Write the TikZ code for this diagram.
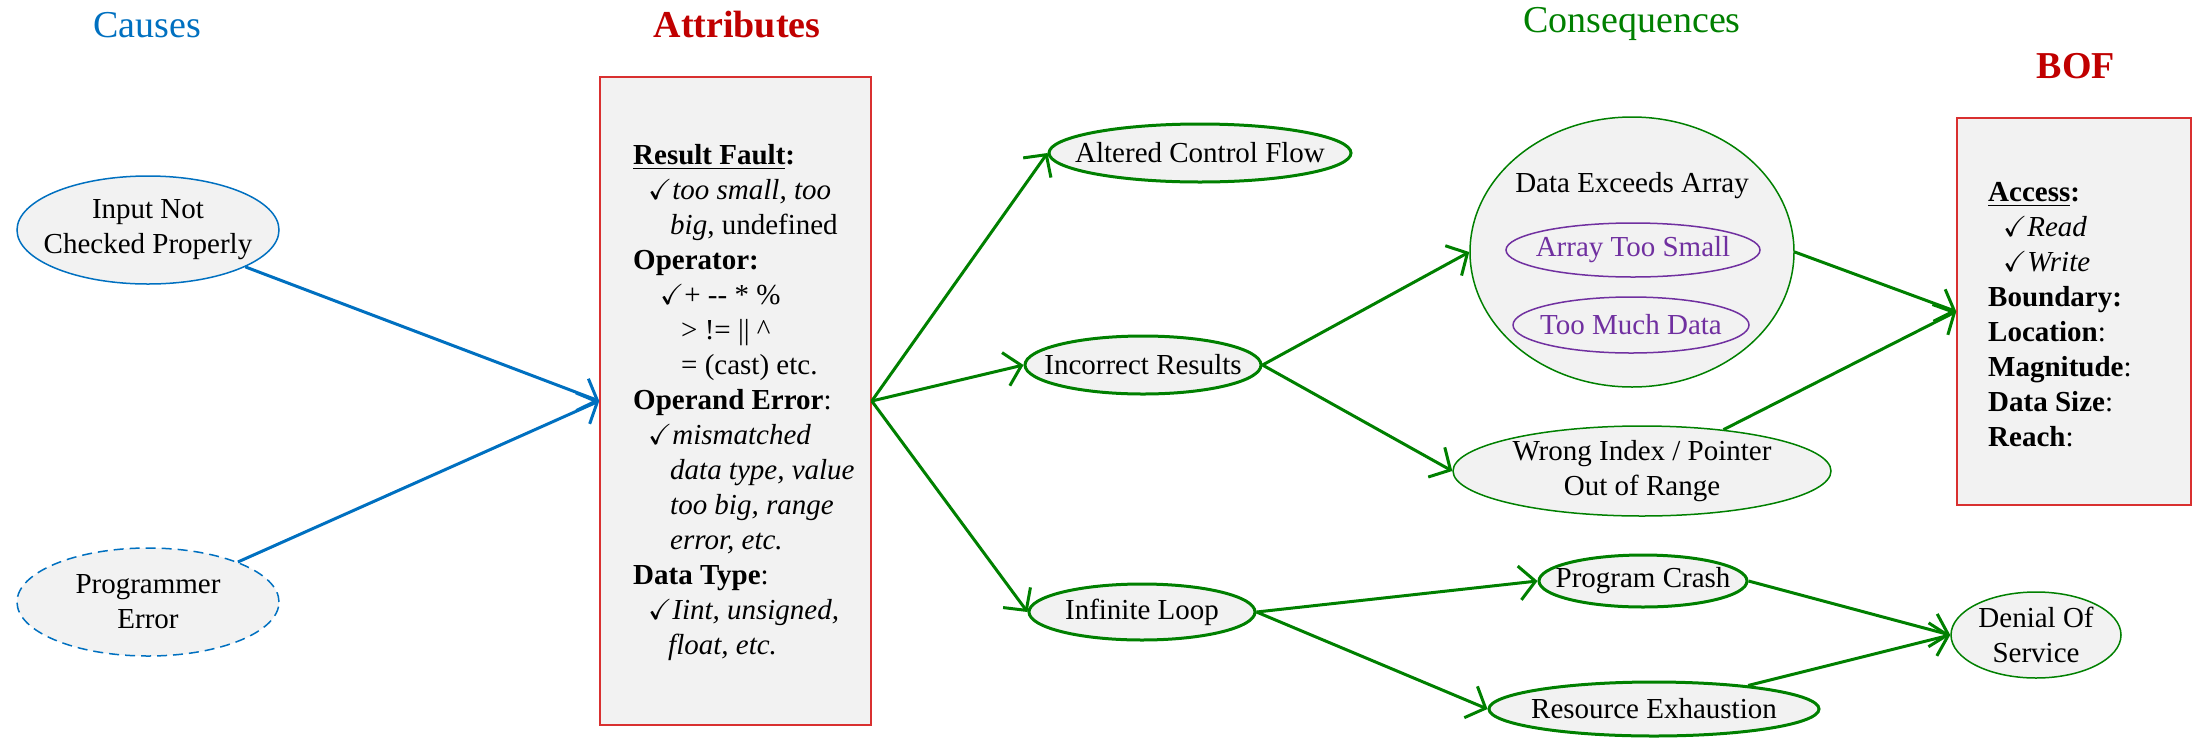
\documentclass[tikz,border=0pt]{standalone}
\usepackage{fontspec}
\usepackage{amssymb}
\setmainfont{Liberation Serif}
\usetikzlibrary{arrows.meta,shapes.geometric}
\definecolor{causeblue}{HTML}{0070C0}
\definecolor{titlered}{HTML}{C00000}
\definecolor{consgreen}{HTML}{008000}
\definecolor{arraypurple}{HTML}{7030A0}
\definecolor{boxred}{HTML}{D93030}
\definecolor{paleface}{HTML}{F2F2F2}
\begin{document}
\begin{tikzpicture}[x=1pt,y=-1pt,
  title/.style={font=\fontsize{38}{42}\selectfont, inner sep=0pt},
  txt/.style={font=\fontsize{29}{35}\selectfont},
  % ellipse size is fixed by minimum width/height; the negative sep keeps the text from widening it
  oval/.style={ellipse, fill=paleface, inner xsep=-60pt, inner ysep=-20pt, align=center, txt},
  causeoval/.style={oval, draw=causeblue, line width=1.5pt},
  thickoval/.style={oval, draw=consgreen, line width=3pt},
  thinoval/.style={oval, draw=consgreen, line width=1.5pt},
  subtype/.style={oval, draw=arraypurple, line width=1.5pt, text=arraypurple},
  infobox/.style={rectangle, draw=boxred, fill=paleface, line width=1.5pt, inner sep=0pt},
  infotext/.style={txt, align=left, anchor=north west, inner sep=0pt},
  flow/.style={line width=3pt, -{Straight Barb[length=16pt,width=34pt]}},
  causeflow/.style={flow, draw=causeblue},
  consflow/.style={flow, draw=consgreen},
]
\useasboundingbox (0,0) rectangle (2195,737);

% column headings
\node[title, text=causeblue] (tcause) at (147,25) {Causes};
\node[title, text=titlered] (tattr) at (737,25) {\textbf{Attributes}};
\node[title, text=consgreen] (tcons) at (1632,24) {Consequences};
\node[title, text=titlered] (tbof) at (2076,66) {\textbf{BOF}};

% causes
\node[causeoval, minimum width=262pt, minimum height=108pt] (input) at (148,230) {Input Not\\Checked Properly};
\node[causeoval, dash pattern=on 10pt off 6pt, minimum width=262pt, minimum height=108pt] (prog) at (148,602) {Programmer\\Error};

% attributes
\node[infobox, minimum width=271pt, minimum height=648pt] (attr) at (735.5,401) {};
\node[infotext] (attrtxt) at (633,144) {%
\underline{\textbf{Result Fault}}\textbf{:}\\
\hspace*{15pt}\checkmark\textit{too small, too}\\
\hspace*{37pt}\textit{big}, undefined\\
\textbf{Operator:}\\
\hspace*{27pt}\checkmark+ -{}- * \%\\
\hspace*{48pt}> != || \textasciicircum\\
\hspace*{48pt}= (cast) etc.\\
\textbf{Operand Error}:\\
\hspace*{15pt}\checkmark\textit{mismatched}\\
\hspace*{37pt}\textit{data type, value}\\
\hspace*{37pt}\textit{too big, range}\\
\hspace*{37pt}\textit{error, etc.}\\
\textbf{Data Type}:\\
\hspace*{15pt}\checkmark\textit{Iint, unsigned,}\\
\hspace*{35pt}\textit{float, etc.}};

% consequences
\node[thickoval, minimum width=302pt, minimum height=58pt] (acf) at (1200,153) {Altered Control Flow};
\node[thickoval, minimum width=236pt, minimum height=58pt] (inc) at (1143,365) {Incorrect Results};
\node[thickoval, minimum width=226pt, minimum height=56pt] (inf) at (1142,612) {Infinite Loop};

\node[thinoval, minimum width=324pt, minimum height=270pt] (dexc) at (1632,252) {};
\node[txt, inner sep=0pt] (dexct) at (1632,186) {Data Exceeds Array};
\node[subtype, minimum width=254pt, minimum height=54pt] (small) at (1633,250) {Array Too Small};
\node[subtype, minimum width=236pt, minimum height=56pt] (much) at (1631,325) {Too Much Data};

\node[thinoval, minimum width=378pt, minimum height=90pt] (wrong) at (1642,471) {Wrong Index / Pointer\\Out of Range};
\node[thickoval, minimum width=208pt, minimum height=52pt] (crash) at (1643,581) {Program Crash};
\node[thickoval, minimum width=330pt, minimum height=54pt] (res) at (1654,709) {Resource Exhaustion};
\node[thinoval, minimum width=170pt, minimum height=86pt] (dos) at (2036,635) {Denial Of\\Service};

% BOF attribute box
\node[infobox, minimum width=234pt, minimum height=387pt] (bof) at (2074,311.5) {};
\node[infotext] (boftxt) at (1988,182) {%
\underline{\textbf{Access}}\textbf{:}\\
\hspace*{15pt}\checkmark\textit{Read}\\
\hspace*{15pt}\checkmark\textit{Write}\\
\textbf{Boundary:}\\
\textbf{Location}:\\
\textbf{Magnitude}:\\
\textbf{Data Size}:\\
\textbf{Reach}:};

% connectors
\draw[causeflow] (input) -- (attr.west);
\draw[causeflow] (prog) -- (attr.west);
\draw[consflow] (attr.east) -- (acf.west);
\draw[consflow] (attr.east) -- (inc.west);
\draw[consflow] (attr.east) -- (inf.west);
\draw[consflow] (inc.east) -- (dexc.west);
\draw[consflow] (inc.east) -- (wrong.west);
\draw[consflow] (dexc.east) -- (bof.west);
\draw[consflow] (wrong) -- (bof.west);
\draw[consflow] (inf.east) -- (crash.west);
\draw[consflow] (inf.east) -- (res.west);
\draw[consflow] (crash.east) -- (dos.west);
\draw[consflow] (res) -- (dos.west);
\end{tikzpicture}
\end{document}
